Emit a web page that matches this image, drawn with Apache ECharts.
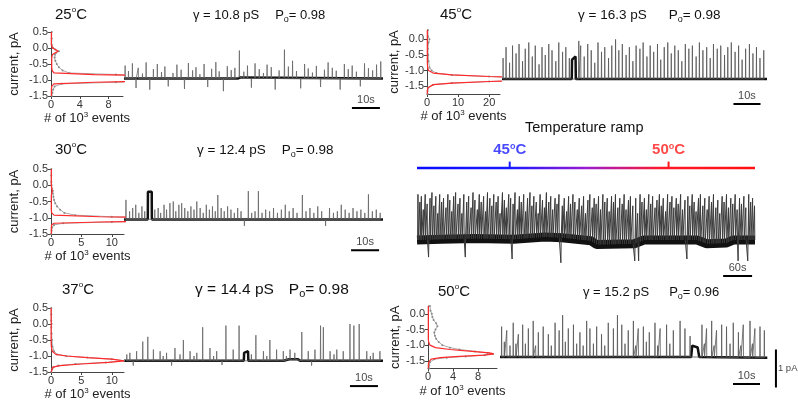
<!DOCTYPE html>
<html><head><meta charset="utf-8">
<script src="https://cdn.jsdelivr.net/npm/echarts@6/dist/echarts.min.js"></script>
<style>html,body{margin:0;padding:0;background:#fff}#c{width:798px;height:405px}</style>
</head><body><div id="c"></div>
<script>
const FONT = '"Liberation Sans", Arial, sans-serif';

// ---------- panel labels ----------
const temps = ['25', '30', '37', '45', '50'];
const gammas = ['10.8', '12.4', '14.4', '16.3', '15.2'];
const pos = ['0.98', '0.98', '0.98', '0.98', '0.96'];

// ---------- all-point histograms: current (pA), gray = data, red = fit (10^3 events) ----------
const cur25  = [0.5, 0.3, 0.1, 0.0, -0.05, -0.1, -0.15, -0.2, -0.3, -0.4, -0.5, -0.6, -0.7, -0.78, -0.83, -0.87, -0.91, -0.95, -0.99, -1.03, -1.07, -1.12, -1.2, -1.3, -1.4, -1.5];
const gray25 = [0.1, 0.1, 0.1, 0.3, 0.6, 1.1, 0.7, 0.5, 0.5, 0.6, 0.8, 1.1, 1.6, 2.5, 9, 16, 24, 28, 24, 16, 9, 1.5, 0.5, 0.3, 0.2, 0.1];
const red25  = [0.05, 0.05, 0.05, 0.2, 0.6, 1.0, 0.6, 0.2, 0.1, 0.1, 0.1, 0.1, 0.15, 0.4, 6, 15, 24, 28, 24, 15, 6, 0.4, 0.1, 0.05, 0.05, 0.05];

const cur30  = [0.5, 0.3, 0.1, 0.0, -0.1, -0.17, -0.25, -0.35, -0.45, -0.55, -0.65, -0.75, -0.85, -0.92, -0.97, -1.01, -1.05, -1.09, -1.13, -1.17, -1.22, -1.3, -1.4, -1.5];
const gray30 = [0.05, 0.05, 0.05, 0.1, 0.15, 0.3, 0.3, 0.4, 0.5, 0.7, 1.0, 1.5, 2.2, 4, 10, 22, 30, 22, 10, 2, 0.5, 0.2, 0.1, 0.05];
const red30  = [0.05, 0.05, 0.05, 0.05, 0.1, 0.2, 0.1, 0.05, 0.05, 0.05, 0.05, 0.05, 0.1, 0.5, 8, 22, 30, 22, 8, 0.5, 0.1, 0.05, 0.05, 0.05];

const cur37  = [0.5, 0.3, 0.1, 0.0, -0.1, -0.3, -0.5, -0.7, -0.85, -0.95, -1.0, -1.05, -1.1, -1.15, -1.2, -1.25, -1.3, -1.35, -1.4, -1.5];
const gray37 = [0.05, 0.05, 0.05, 0.1, 0.05, 0.1, 0.15, 0.25, 0.5, 1.0, 2.5, 6, 10, 12, 9, 4, 1.2, 0.4, 0.2, 0.05];
const red37  = [0.02, 0.02, 0.02, 0.05, 0.02, 0.02, 0.02, 0.05, 0.2, 0.8, 2.5, 6, 10, 12, 9.5, 5, 1.5, 0.3, 0.05, 0.02];

const cur45  = [0.3, 0.1, 0.0, -0.1, -0.3, -0.5, -0.7, -0.9, -1.0, -1.08, -1.14, -1.19, -1.23, -1.27, -1.31, -1.35, -1.4, -1.45, -1.55, -1.65, -1.75];
const gray45 = [0.3, 0.3, 0.8, 0.5, 0.3, 0.4, 0.5, 0.8, 1.5, 3, 8, 20, 35, 45, 35, 20, 8, 2, 0.4, 0.2, 0.2];
const red45  = [0.1, 0.1, 0.1, 0.1, 0.1, 0.1, 0.1, 0.2, 0.5, 2, 8, 20, 35, 45, 35, 20, 8, 2, 0.3, 0.1, 0.1];

const cur50  = [0.25, 0.1, 0.0, -0.1, -0.2, -0.3, -0.4, -0.5, -0.6, -0.7, -0.8, -0.9, -1.0, -1.08, -1.14, -1.2, -1.25, -1.28, -1.32, -1.36, -1.4, -1.45, -1.55, -1.65, -1.75];
const gray50 = [0.3, 0.4, 0.6, 0.7, 0.9, 1.3, 1.5, 1.2, 1.0, 1.1, 1.3, 1.7, 2.3, 3.5, 5, 7.5, 9.5, 10.3, 9, 6, 3, 1, 0.3, 0.2, 0.2];
const red50  = [0.05, 0.05, 0.05, 0.05, 0.05, 0.05, 0.05, 0.05, 0.05, 0.05, 0.05, 0.1, 0.3, 1.2, 3.5, 7, 9.8, 10.5, 9, 5, 2, 0.5, 0.1, 0.05, 0.05];

// ---------- single-channel traces: [time s, current pA] ----------
const base25 = [[0, -0.95], [40.8, -0.95], [40.9, -0.9], [41.6, -0.92], [41.7, -0.95], [92.5, -0.95]];
const spikes25 = [[0.4,-0.55],[1.6,-0.72],[3.0,-0.48],[4.3,-1.25],[5.1,-0.62],[6.6,-0.8],[7.9,-0.45],[9.2,-1.3],[10.5,-0.66],[11.9,-0.5],[13.4,-0.75],[14.6,-0.58],[15.8,-1.2],[17.5,-0.78],[18.9,-0.52],[20.4,-0.68],[21.6,-1.28],[23.0,-0.47],[24.5,-0.7],[25.7,-0.6],[27.1,-0.82],[28.6,-0.5],[29.9,-1.22],[31.3,-0.65],[32.8,-0.44],[34.0,-0.73],[35.5,-1.35],[36.9,-0.57],[38.3,-0.69],[39.6,-0.62],[41.2,-0.08],[42.8,-0.74],[44.1,-0.55],[45.5,-1.24],[46.8,-0.48],[48.3,-0.66],[49.8,-0.78],[51.1,-0.52],[52.6,-0.6],[54.0,-1.3],[55.4,-0.7],[57.3,-0.05],[58.7,-0.58],[60.2,-0.4],[61.6,-0.72],[63.1,-1.26],[64.5,-0.5],[65.8,-0.64],[67.3,-0.77],[68.7,-0.56],[70.2,-1.22],[71.6,-0.68],[72.9,-0.45],[74.4,-0.62],[75.8,-0.71],[77.2,-1.3],[78.7,-0.5],[80.1,-0.66],[81.5,-0.55],[83.0,-0.74],[84.4,-1.2],[85.9,-0.48],[87.3,-0.63],[88.8,-0.7],[90.2,-0.52],[91.7,-0.42]];

const base30 = [[0, -1.05], [8.5, -1.05], [8.55, -0.2], [9.9, -0.2], [9.95, -1.05], [92.5, -1.05]];
const spikes30 = [[0.7,-0.45],[2.0,-0.8],[3.1,-0.7],[4.2,-0.6],[5.3,-0.85],[6.4,-0.65],[7.4,-0.8],[11.0,-0.75],[12.2,-0.7],[13.1,-0.85],[14.3,-0.6],[15.2,-0.75],[16.4,-0.55],[17.6,-0.5],[18.5,-0.8],[19.6,-0.6],[20.6,-0.55],[21.7,-0.7],[22.8,-0.8],[23.9,-0.65],[25.0,-0.75],[26.0,-0.5],[27.2,-0.7],[28.3,-0.85],[29.4,-0.6],[30.5,-0.75],[31.6,-0.65],[32.6,-0.8],[33.5,-0.3],[34.7,-0.7],[35.8,-0.8],[37.0,-0.65],[38.2,-0.75],[39.4,-0.85],[40.6,-0.7],[41.8,-0.8],[43.0,-1.25],[44.4,-0.18],[45.6,-0.85],[46.8,-0.8],[48.0,-0.18],[49.3,-0.85],[50.6,-0.75],[52.0,-0.8],[53.4,-0.7],[54.8,-0.85],[56.2,-0.75],[57.6,-0.6],[59.0,-0.8],[60.4,-0.7],[61.8,-0.85],[63.7,-0.3],[65.0,-0.8],[66.4,-0.7],[67.8,-0.85],[69.2,-0.65],[70.6,-0.8],[72.0,-1.25],[73.4,-0.7],[74.8,-0.85],[76.2,-0.8],[77.6,-0.6],[79.0,-0.75],[80.4,-0.85],[81.8,-0.7],[83.2,-0.8],[84.6,-0.75],[86.0,-0.85],[87.3,-0.28],[88.7,-0.8],[90.1,-0.75],[91.5,-0.85]];

const base37 = [[0, -1.15], [42.8, -1.15], [42.9, -0.9], [44.3, -0.85], [44.4, -1.15], [57, -1.15], [59, -1.1], [62, -1.1], [63, -1.15], [92.5, -1.15]];
const spikes37 = [[1.0,-0.95],[2.1,-0.9],[3.3,-1.3],[4.5,-0.85],[6.7,-0.55],[8.5,-0.4],[10.5,-0.8],[12.9,-0.85],[14.0,-1.0],[15.2,-0.9],[17.0,-1.3],[18.2,-0.75],[20.0,-0.95],[21.2,-0.5],[23.6,-0.85],[25.0,-1.0],[26.0,-0.9],[28.1,-0.1],[30.7,-0.75],[32.0,-1.0],[33.1,-0.85],[35.0,-1.28],[36.4,-0.05],[39.0,-0.8],[41.1,-0.05],[45.5,-0.95],[47.1,-0.35],[49.8,-0.85],[51.0,-1.0],[52.1,-0.5],[54.5,-0.8],[56.9,-0.85],[58.0,-1.0],[59.3,-0.8],[61.0,-0.9],[63.5,-0.25],[65.8,-0.85],[67.0,-1.3],[68.2,-0.8],[70.2,-0.05],[71.2,-0.1],[73.6,-0.85],[75.0,-0.95],[76.0,-0.8],[78.3,-0.85],[80.7,0.0],[82.1,-0.05],[84.0,0.0],[86.7,-0.85],[88.0,-1.0],[89.0,-0.9],[91.4,-0.85]];

const base45 = [[0, -1.27], [25.8, -1.27], [25.9, -0.65], [27.2, -0.55], [27.3, -1.27], [98, -1.27]];
const spikes45 = [[0.4,-0.6],[1.5,-0.25],[2.8,-0.75],[3.9,-0.2],[5.2,-0.45],[6.3,-0.15],[7.6,-0.7],[8.6,-0.3],[9.9,-0.1],[11.2,-0.55],[12.3,-0.2],[13.7,-0.8],[14.8,-0.25],[16.0,-0.5],[17.3,-0.15],[18.5,-0.35],[19.9,-0.7],[21.0,-0.1],[22.4,-0.4],[23.6,-0.25],[24.9,-0.6],[28.4,-0.05],[29.1,-0.2],[30.4,-0.55],[31.7,-0.15],[33.0,-0.35],[34.3,-0.75],[35.5,-0.1],[36.8,-0.4],[38.0,-0.25],[39.4,-0.6],[40.6,-0.2],[42.0,0.0],[43.2,-0.35],[44.5,-0.15],[45.9,-0.5],[47.1,-0.25],[48.4,-0.7],[49.6,-0.2],[51.0,-0.3],[52.2,-0.1],[53.6,-0.55],[54.8,-0.2],[56.1,-0.4],[57.5,-0.15],[58.7,-0.65],[60.0,-0.25],[61.3,-0.1],[62.6,-0.45],[63.9,-0.2],[65.2,-0.35],[66.5,-0.7],[67.8,-0.15],[69.1,-0.3],[70.4,-0.2],[71.8,-0.55],[73.0,-0.1],[74.3,-0.35],[75.7,-0.25],[77.0,-0.6],[78.2,-0.15],[79.6,-0.3],[80.9,-0.2],[82.3,-0.5],[83.5,-0.25],[84.8,-0.1],[86.2,-0.4],[87.5,-0.2],[88.8,-0.65],[90.1,-0.3],[91.5,-0.15],[92.8,-0.45],[94.1,-0.25],[95.4,-0.6],[96.8,-0.35]];

const base50 = [[0, -1.3], [70.8, -1.3], [71.2, -1.0], [73.2, -1.05], [73.8, -1.3], [99, -1.32]];
const spikes50 = [[0.6,-0.5],[1.6,-0.9],[2.5,-0.6],[3.7,-1.0],[4.9,-0.4],[5.9,-0.95],[6.8,-0.7],[8.4,-0.45],[9.4,-0.95],[10.5,-0.55],[12.3,-0.35],[13.2,-1.0],[14.2,-0.65],[16.0,-0.5],[17.9,-0.7],[19.0,-1.0],[20.4,-0.4],[21.9,-0.6],[23.2,-0.2],[24.2,-0.9],[25.3,-0.55],[27.2,-0.45],[28.4,-0.95],[29.6,-0.65],[30.8,-1.0],[32.1,-0.35],[33.3,-0.55],[34.6,-0.95],[35.8,-0.5],[37.6,-0.7],[38.8,-1.0],[40.1,-0.4],[42.0,-0.55],[43.5,-0.2],[45.1,-0.45],[46.3,-0.95],[47.5,-0.6],[49.4,-0.35],[50.3,-1.0],[51.2,-0.55],[53.1,-0.5],[54.2,-0.9],[55.3,-0.65],[57.4,-0.4],[58.4,-1.0],[59.3,-0.55],[61.7,-0.45],[62.9,-0.95],[64.2,-0.6],[66.7,-0.35],[68.5,-0.55],[70.4,-0.75],[74.8,-0.45],[75.7,-0.95],[76.5,-0.55],[78.4,-0.35],[79.3,-1.0],[80.2,-0.6],[82.1,-0.45],[83.9,-0.5],[85.2,-0.95],[86.4,-0.4],[88.3,-0.65],[89.2,-1.0],[90.1,-0.45],[92.6,-0.35],[93.5,-0.95],[94.4,-0.55],[96.3,-0.5],[97.9,-0.6]];

const baseRamp = [[0,-1.3],[50,-1.28],[120,-1.26],[200,-1.28],[265,-1.22],[300,-1.24],[360,-1.32],[372,-1.42],[450,-1.4],[470,-1.3],[580,-1.3],[600,-1.4],[640,-1.38],[655,-1.3],[700,-1.3]];
const spikesRamp = [[2,-0.1],[6,-0.3],[9,-0.15],[13,-0.5],[17,-0.1],[21,-0.35],[24,-1.75],[27,-0.2],[31,-0.05],[35,-0.4],[39,-0.15],[43,-0.6],[47,-0.1],[51,-0.3],[55,-0.2],[60,-0.45],[64,-0.1],[68,-0.25],[72,-0.55],[76,-0.15],[80,-0.05],[85,-0.35],[89,-0.2],[93,-0.6],[97,-0.1],[100,-1.75],[103,-0.3],[107,-0.15],[112,-0.45],[116,-0.05],[120,-0.25],[125,-0.5],[129,-0.1],[133,-0.3],[138,-0.15],[142,-0.55],[146,-0.05],[151,-0.2],[155,-0.4],[159,-0.1],[164,-0.3],[168,-0.15],[172,-0.6],[177,-0.05],[181,-0.25],[185,-0.45],[190,-0.1],[194,-0.2],[197,-1.8],[199,-0.35],[203,-0.05],[208,-0.5],[212,-0.15],[216,-0.3],[221,-0.1],[225,-0.55],[229,-0.2],[234,-0.05],[238,-0.4],[242,-0.15],[247,-0.3],[251,-0.6],[255,-0.1],[260,-0.25],[264,-0.45],[268,-0.05],[273,-0.3],[277,-0.15],[281,-0.5],[286,-0.2],[290,-0.35],[294,-0.1],[298,-1.9],[301,-0.4],[305,-0.2],[310,-0.55],[314,-0.15],[318,-0.35],[323,-0.1],[327,-0.3],[332,-0.5],[336,-0.2],[341,-0.4],[345,-0.15],[349,-0.6],[354,-0.25],[358,-0.1],[363,-0.45],[367,-0.2],[371,-0.35],[376,-0.15],[380,-0.5],[385,-0.1],[389,-0.3],[394,-0.2],[398,-0.55],[403,-0.15],[407,-0.3],[411,-0.1],[416,-0.45],[420,-0.2],[425,-0.35],[429,-0.1],[433,-0.5],[438,-0.25],[442,-0.15],[447,-0.4],[451,-1.85],[453,-0.2],[457,-0.6],[459,-1.85],[462,-0.1],[466,-0.3],[471,-0.2],[475,-0.5],[480,-0.1],[484,-0.35],[488,-0.15],[493,-0.45],[497,-0.25],[502,-0.1],[506,-0.4],[510,-0.2],[515,-0.55],[519,-0.1],[524,-0.3],[528,-0.15],[532,-0.45],[537,-0.2],[541,-0.35],[546,-0.1],[550,-0.5],[555,-0.25],[559,-1.8],[561,-0.15],[565,-0.4],[570,-0.1],[574,-0.3],[578,-0.55],[583,-0.2],[587,-0.1],[592,-0.4],[596,-0.2],[601,-0.5],[605,-0.15],[610,-0.3],[614,-0.1],[619,-0.45],[623,-0.25],[627,-0.6],[632,-0.15],[636,-0.3],[641,-0.1],[645,-0.45],[650,-0.2],[654,-0.35],[659,-0.1],[663,-0.5],[665,-1.85],[668,-0.2],[672,-0.35],[677,-0.15],[681,-0.45],[685,-1.85],[687,-0.1],[691,-0.3],[695,-0.2],[699,-0.4]];

// temperature ramp markers (time in s along the 700 s ramp record)
const rampLength = 700;
const rampMarkT = [192, 521];
const rampMarkTemp = ['45', '50'];
const rampMarkColor = ['#1a1aff', '#ff1a1a'];

// scale bars: [grid, t start, t end, level, label]
const scaleBars = [
  [1, 81.4, 91.4, -1.875, '10s'],
  [3, 81.1, 91.1, -2.0, '10s'],
  [5, 80.7, 90.7, -1.94, '10s'],
  [7, 85.6, 95.6, -2.07, '10s'],
  [9, 86.3, 96.3, -2.01, '10s'],
  [11, 634, 694, -2.25, '60s']
];

// ---------- build ----------
const grids = [
  {left: 51, top: 32, width: 72, height: 64},    // 0 hist 25
  {left: 124, top: 32, width: 259, height: 96},  // 1 trace 25
  {left: 51, top: 169, width: 73, height: 65},   // 2 hist 30
  {left: 124, top: 169, width: 259, height: 97.5},//3 trace 30
  {left: 51, top: 308, width: 73, height: 64},   // 4 hist 37
  {left: 124, top: 308, width: 259, height: 96}, // 5 trace 37
  {left: 427, top: 30, width: 73, height: 64},   // 6 hist 45
  {left: 502, top: 30, width: 265, height: 87.4},// 7 trace 45
  {left: 428, top: 306, width: 69, height: 62.6},// 8 hist 50
  {left: 500, top: 305.7, width: 283.5, height: 96.9}, // 9 trace 50
  {left: 417, top: 150, width: 338, height: 20}, // 10 ramp bar
  {left: 417, top: 179.2, width: 338, height: 114} // 11 ramp trace
];

const xAxes = [], yAxes = [];
function histAxes(g, xmax, xint, ymin, ymax, yNameGap) {
  const yt = [-1.5, -1.0, -0.5, 0.0, 0.5].filter(v => v <= ymax + 1e-9 && v >= ymin - 1e-9);
  xAxes.push({gridIndex: g, type: 'value', min: 0, max: xmax, interval: xint,
    axisLine: {show: true, onZero: false, lineStyle: {color: '#444'}},
    axisTick: {show: true, length: 3, lineStyle: {color: '#444'}},
    axisLabel: {fontSize: 11, color: '#333', margin: 3, fontFamily: FONT, showMaxLabel: false},
    splitLine: {show: false},
    name: '# of 10{s|3} events', nameLocation: 'middle', nameGap: 14,
    nameTextStyle: {fontSize: 13, color: '#222', fontFamily: FONT, lineHeight: 16,
      rich: {s: {fontSize: 8, lineHeight: 6, verticalAlign: 'top', color: '#222', fontFamily: FONT}}}
  });
  yAxes.push({gridIndex: g, type: 'value', min: ymin, max: ymax,
    axisLine: {show: true, onZero: false, lineStyle: {color: '#444'}},
    axisTick: {show: true, length: 3, customValues: yt, lineStyle: {color: '#444'}},
    axisLabel: {customValues: yt, fontSize: 11, color: '#333', margin: 3, fontFamily: FONT, formatter: v => v.toFixed(1)},
    splitLine: {show: false},
    name: 'current, pA', nameLocation: 'middle', nameGap: yNameGap,
    nameTextStyle: {fontSize: 13, color: '#222', fontFamily: FONT}
  });
}
function hiddenAxes(g, xmax, ymin, ymax) {
  xAxes.push({gridIndex: g, type: 'value', min: 0, max: xmax, show: false});
  yAxes.push({gridIndex: g, type: 'value', min: ymin, max: ymax, show: false});
}
histAxes(0, 10, 4, -1.5, 0.5, 30);
hiddenAxes(1, 92.5, -2.5, 0.5);
histAxes(2, 12, 5, -1.5, 0.5, 30);
hiddenAxes(3, 92.5, -2.5, 0.5);
histAxes(4, 12, 5, -1.5, 0.5, 30);
hiddenAxes(5, 92.5, -2.5, 0.5);
histAxes(6, 23.5, 10, -1.75, 0.3, 23);
hiddenAxes(7, 98, -2.5, 0.3);
histAxes(8, 11, 4, -1.75, 0.25, 23);
hiddenAxes(9, 105, -2.5, 0.05);
hiddenAxes(10, rampLength, 0, 1);
hiddenAxes(11, rampLength, -2.7, 0.3);

const series = [];
function addHist(g, cur, gray, red) {
  series.push({type: 'line', xAxisIndex: g, yAxisIndex: g, data: cur.map((c, i) => [gray[i], c]),
    symbol: 'circle', symbolSize: 2, lineStyle: {color: '#aaaaaa', width: 1}, itemStyle: {color: '#8a8a8a'}, z: 3, silent: true});
  series.push({type: 'line', xAxisIndex: g, yAxisIndex: g, data: cur.map((c, i) => [red[i], c]),
    symbol: 'none', lineStyle: {color: '#ff2a2a', width: 1.2}, z: 4, silent: true});
}
function footAt(base, t) {
  for (let i = 1; i < base.length; i++) {
    if (t <= base[i][0]) {
      const a = base[i - 1], b = base[i];
      return a[1] + (b[1] - a[1]) * (t - a[0]) / (b[0] - a[0] || 1);
    }
  }
  return base[base.length - 1][1];
}
function addTrace(g, base, spikes, hw, bandW, spikeW, spikeColor) {
  const sorted = spikes.slice().sort((a, b) => a[0] - b[0]);
  const d = [];
  sorted.forEach(([t, v]) => { const f = footAt(base, t); d.push([t - hw, f], [t, v], [t + hw, f]); });
  series.push({type: 'line', xAxisIndex: g, yAxisIndex: g, data: base, symbol: 'none',
    lineStyle: {color: '#111', width: bandW}, z: 2, silent: true});
  series.push({type: 'line', xAxisIndex: g, yAxisIndex: g, data: d, symbol: 'none',
    lineStyle: {color: spikeColor, width: spikeW}, z: 3, silent: true});
}
addHist(0, cur25, gray25, red25);
addHist(2, cur30, gray30, red30);
addHist(4, cur37, gray37, red37);
addHist(6, cur45, gray45, red45);
addHist(8, cur50, gray50, red50);
addTrace(1, base25, spikes25, 0.08, 2.5, 0.8, '#666');
addTrace(3, base30, spikes30, 0.08, 2.5, 0.8, '#666');
addTrace(5, base37, spikes37, 0.08, 2.5, 0.8, '#666');
addTrace(7, base45, spikes45, 0.08, 2.5, 0.8, '#555');
addTrace(9, base50, spikes50, 0.08, 2.5, 0.8, '#555');
addTrace(11, baseRamp, spikesRamp, 0.6, 9, 1, '#3a3a3a');

scaleBars.forEach(([g, t0, t1, y, lab]) => {
  series.push({type: 'line', xAxisIndex: g, yAxisIndex: g, data: [[t0, y], [t1, y]], symbol: 'none',
    lineStyle: {color: '#000', width: 2}, silent: true});
  series.push({type: 'scatter', xAxisIndex: g, yAxisIndex: g, data: [[(t0 + t1) / 2, y]], symbolSize: 0,
    label: {show: true, position: 'top', distance: 3, formatter: lab, fontSize: 11, color: '#111', fontFamily: FONT}, silent: true});
});
// 1 pA bar on the 50 °C trace
series.push({type: 'line', xAxisIndex: 9, yAxisIndex: 9, data: [[102.2, -1.1], [102.2, -2.1]], symbol: 'none',
  lineStyle: {color: '#000', width: 2}, silent: true});
series.push({type: 'scatter', xAxisIndex: 9, yAxisIndex: 9, data: [[102.2, -1.6]], symbolSize: 0,
  label: {show: true, position: 'right', distance: 2, formatter: '1 pA', fontSize: 9.5, color: '#111', fontFamily: FONT}, silent: true});

// temperature ramp bar
series.push({type: 'line', xAxisIndex: 10, yAxisIndex: 10, data: [[0, 0.1], [rampLength, 0.1]], symbol: 'none',
  lineStyle: {width: 2.5, color: new echarts.graphic.LinearGradient(0, 0, 1, 0, [
    {offset: 0, color: '#0a0aff'}, {offset: 0.28, color: '#1a1aff'}, {offset: 0.5, color: '#9a1ad0'},
    {offset: 0.72, color: '#ff1a2a'}, {offset: 1, color: '#ff1010'}])}, silent: true});
rampMarkT.forEach((t, i) => {
  series.push({type: 'line', xAxisIndex: 10, yAxisIndex: 10, data: [[t, 0.1], [t, 0.42]], symbol: 'none',
    lineStyle: {color: rampMarkColor[i], width: 2}, silent: true});
  series.push({type: 'scatter', xAxisIndex: 10, yAxisIndex: 10, data: [[t, 0.42]], symbolSize: 0,
    label: {show: true, position: 'top', distance: 3, formatter: `{n|${rampMarkTemp[i]}}{s|o}{n|C}`,
      rich: {n: {fontSize: 15, fontWeight: 'bold', color: rampMarkColor[i], fontFamily: FONT, lineHeight: 17},
             s: {fontSize: 9, fontWeight: 'bold', color: rampMarkColor[i], fontFamily: FONT, lineHeight: 8, verticalAlign: 'top'}}}, silent: true});
});

// ---------- titles ----------
function tempTitle(num, left, top, size) {
  return {text: `{n|${num}}{s|o}{n|C}`, left, top, padding: 0, textStyle: {fontWeight: 'normal', rich: {
    n: {fontSize: size, fontWeight: 'normal', fontFamily: FONT, color: '#111', lineHeight: 18},
    s: {fontSize: Math.round(size * 0.55), fontWeight: 'normal', fontFamily: FONT, color: '#111', lineHeight: 8, verticalAlign: 'top'}}}};
}
function statsTitle(g, p, left, top, size, gap) {
  return {text: `{a|γ = ${g} pS}{gap| }{a|P}{b|o}{a|= ${p}}`, left, top, padding: 0, textStyle: {fontWeight: 'normal', rich: {
    a: {fontSize: size, fontWeight: 'normal', fontFamily: FONT, color: '#111', lineHeight: 18},
    gap: {fontSize: size, fontWeight: 'normal', width: gap, lineHeight: 18},
    b: {fontSize: Math.round(size * 0.7), fontWeight: 'normal', fontFamily: FONT, color: '#111', lineHeight: 8, verticalAlign: 'bottom'}}}};
}
const titles = [
  tempTitle(temps[0], 55, 6, 15), statsTitle(gammas[0], pos[0], 193, 6, 13, 16),
  tempTitle(temps[1], 55, 141, 15), statsTitle(gammas[1], pos[1], 197, 141, 13.5, 16),
  tempTitle(temps[2], 62, 281, 15), statsTitle(gammas[2], pos[2], 195, 281, 15.5, 15),
  tempTitle(temps[3], 440, 6, 15), statsTitle(gammas[3], pos[3], 578, 6, 13.5, 22),
  tempTitle(temps[4], 438, 283, 15), statsTitle(gammas[4], pos[4], 583, 283, 13, 20),
  {text: 'Temperature ramp', left: 525, top: 120, padding: 0, textStyle: {fontSize: 14.5, fontWeight: 'normal', color: '#111', fontFamily: FONT}}
];

const chart = echarts.init(document.getElementById('c'), null, {renderer: 'canvas'});
chart.setOption({
  animation: false,
  backgroundColor: '#fff',
  textStyle: {fontFamily: FONT},
  title: titles,
  grid: grids,
  xAxis: xAxes,
  yAxis: yAxes,
  series: series
});
</script></body></html>
